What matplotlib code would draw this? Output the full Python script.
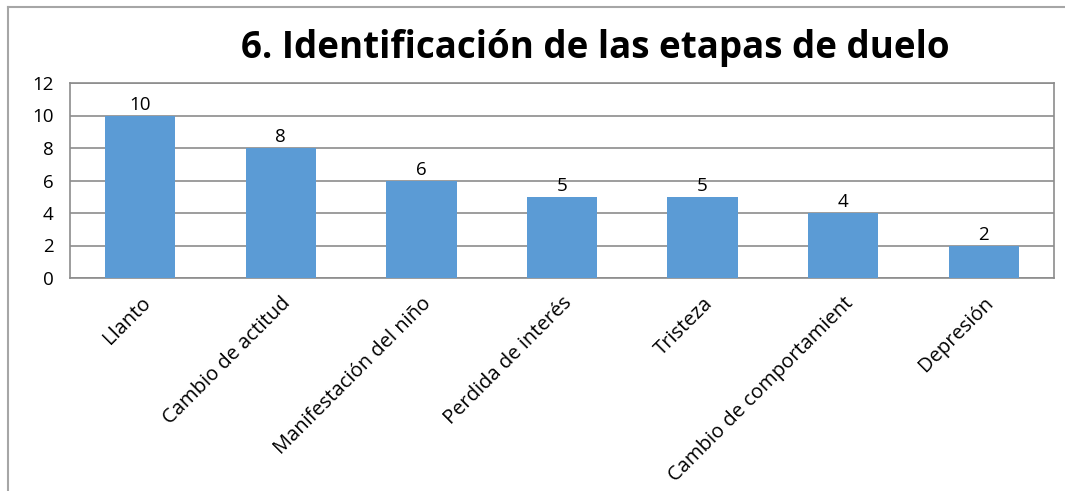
import matplotlib.pyplot as plt
import numpy as np
from matplotlib.lines import Line2D

categories = ['Llanto', 'Cambio de actitud', 'Manifestación del niño',
              'Perdida de interés', 'Tristeza', 'Cambio de comportamient', 'Depresión']
values = [10, 8, 6, 5, 5, 4, 2]
yticks = [0, 2, 4, 6, 8, 10, 12]

plt.rcParams['font.family'] = ['Open Sans', 'DejaVu Sans']

fig = plt.figure(figsize=(10.65, 4.91), dpi=100)
ax = fig.add_axes([70 / 1065, 1 - 278 / 491, 984 / 1065, 195 / 491])

x = np.arange(len(categories))
ax.bar(x, values, width=0.5, color='#5B9BD5', zorder=3)
for xi, v in zip(x, values):
    ax.text(xi, v + 0.1, str(v), ha='center', va='bottom', fontsize=13.5, color='black')

ax.set_xlim(-0.5, len(categories) - 0.5)
ax.set_ylim(0, 12)
ax.set_yticks(yticks)
ax.tick_params(axis='y', length=0, labelsize=13.5, pad=12)
ax.tick_params(axis='x', length=0, labelsize=14.5, pad=11)
ax.set_xticks(x)
ax.set_xticklabels(categories, rotation=45, ha='right', rotation_mode='anchor')
ax.yaxis.grid(True, color='#8c8c8c', linewidth=1.2, zorder=0)
for s in ax.spines.values():
    s.set_color('#8c8c8c')
    s.set_linewidth(1.2)

fig.text(595 / 1065, 1 - 48 / 491, '6. Identificación de las etapas de duelo',
         ha='center', va='center', fontsize=26.5, fontweight='bold')

# outer chart border (left and top only visible)
fig.add_artist(Line2D([8 / 1065, 8 / 1065], [0, 1 - 7 / 491], color='#a6a6a6', linewidth=1.5))
fig.add_artist(Line2D([8 / 1065, 1], [1 - 7 / 491, 1 - 7 / 491], color='#a6a6a6', linewidth=1.5))

fig.savefig('out.png', dpi=100)
